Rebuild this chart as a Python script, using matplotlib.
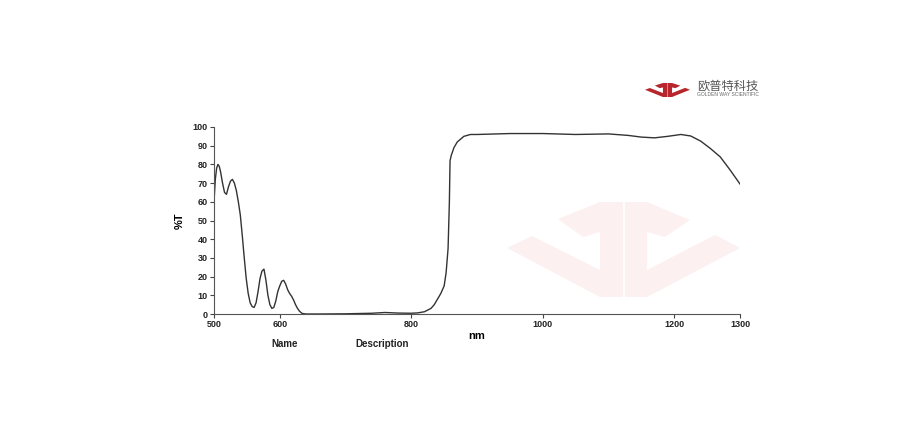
import matplotlib
matplotlib.use("Agg")
import matplotlib.pyplot as plt
from matplotlib.patches import Polygon

plt.rcParams["font.family"] = ["Liberation Sans", "Noto Sans CJK SC", "DejaVu Sans"]

# transmission spectrum
wavelength = [500, 502, 504, 506, 508, 510, 513, 516, 519, 522, 525, 528, 531, 534,
              537, 540, 543, 546, 549, 552, 555, 558, 561, 564, 567, 570, 573, 576,
              579, 582, 585, 588, 591, 594, 597, 600, 603, 606, 609, 612, 615, 618,
              621, 624, 627, 630, 634, 640, 660, 700, 740, 760, 780, 800, 810, 820,
              830, 835, 840, 845, 850, 853, 856, 858, 859, 861, 865, 870, 880, 890,
              900, 950, 1000, 1050, 1100, 1130, 1150, 1170, 1190, 1210, 1225, 1240,
              1255, 1270, 1285, 1300]
transmission = [60, 72, 78, 80, 79, 76, 70, 65, 64, 68, 71, 72, 70, 66,
                60, 53, 42, 30, 19, 11, 6, 4, 3.5, 6, 12, 19, 23, 24,
                18, 10, 5, 3, 3.5, 7, 12, 15, 17.5, 18, 16, 13, 11, 9.5,
                7.5, 5, 3, 1.5, 0.3, 0, 0, 0.1, 0.4, 0.8, 0.5, 0.4, 0.6, 1.2,
                3, 5, 8, 11, 15, 22, 35, 60, 82, 85, 89, 92, 95, 96,
                96, 96.5, 96.5, 96, 96.3, 95.5, 94.6, 94.2, 95, 96, 95.2, 92.5,
                88.5, 84, 77, 69.5]

x_ticks = [500, 600, 800, 1000, 1200, 1300]
y_ticks = list(range(0, 101, 10))

fig = plt.figure(figsize=(9.24, 4.4), dpi=100)
fig.patch.set_facecolor("white")

# logo outline in a unit box (y up), used for the watermark and the small logo
shape_left = [(0.0, 0.516), (0.107, 0.642), (0.399, 0.284), (0.399, 0.684),
              (0.326, 0.632), (0.219, 0.821), (0.399, 1.0), (0.498, 1.0),
              (0.498, 0.0), (0.399, 0.0)]
shape_right = [(0.506, 1.0), (0.601, 1.0), (0.785, 0.811), (0.678, 0.632),
               (0.601, 0.684), (0.601, 0.284), (0.893, 0.653), (1.0, 0.516),
               (0.601, 0.0), (0.506, 0.0)]


def draw_logo(x0, y0, w, h, color, z):
    # x0, y0 = top-left corner in pixels
    for shp in (shape_left, shape_right):
        pts = [((x0 + px * w) / 924, 1 - (y0 + (1 - py) * h) / 440) for px, py in shp]
        fig.patches.append(Polygon(pts, closed=True, transform=fig.transFigure,
                                   facecolor=color, edgecolor="none", zorder=z))


draw_logo(507, 202, 233, 95, "#fcf0f0", 0)
draw_logo(645, 83, 45, 14, "#b8262d", 3)
fig.text(697 / 924, 1 - 86 / 440, "欧普特科技", fontsize=8.8, color="#555555",
         va="center", ha="left", family=["Noto Sans CJK SC", "DejaVu Sans"])
fig.text(697 / 924, 1 - 94 / 440, "GOLDEN WAY SCIENTIFIC", fontsize=3.6, color="#666666",
         va="center", ha="left")

ax = fig.add_axes([214 / 924, 1 - 314 / 440, 526 / 924, 187 / 440])
ax.set_facecolor("none")
ax.plot(wavelength, transmission, color="#333333", linewidth=1.0)

ax.set_xlim(500, 1300)
ax.set_ylim(0, 100)
ax.set_xticks(x_ticks)
ax.set_yticks(y_ticks)
ax.tick_params(axis="both", labelsize=6.5, length=3, width=0.8, color="#444444",
               pad=1.5)
for lbl in ax.get_xticklabels() + ax.get_yticklabels():
    lbl.set_fontweight("bold")
    lbl.set_color("#222222")
for side in ("top", "right"):
    ax.spines[side].set_visible(False)
for side in ("left", "bottom"):
    ax.spines[side].set_color("#555555")
    ax.spines[side].set_linewidth(0.8)

ax.set_xlabel("nm", fontsize=8, fontweight="bold", labelpad=1)
ax.set_ylabel("%T", fontsize=8, fontweight="bold", labelpad=6)

fig.text(285 / 924, 1 - 344 / 440, "Name", fontsize=7, fontweight="bold",
         ha="center", va="center", color="#222222")
fig.text(382 / 924, 1 - 344 / 440, "Description", fontsize=7, fontweight="bold",
         ha="center", va="center", color="#222222")

fig.savefig("out.png", dpi=100, facecolor="white")
